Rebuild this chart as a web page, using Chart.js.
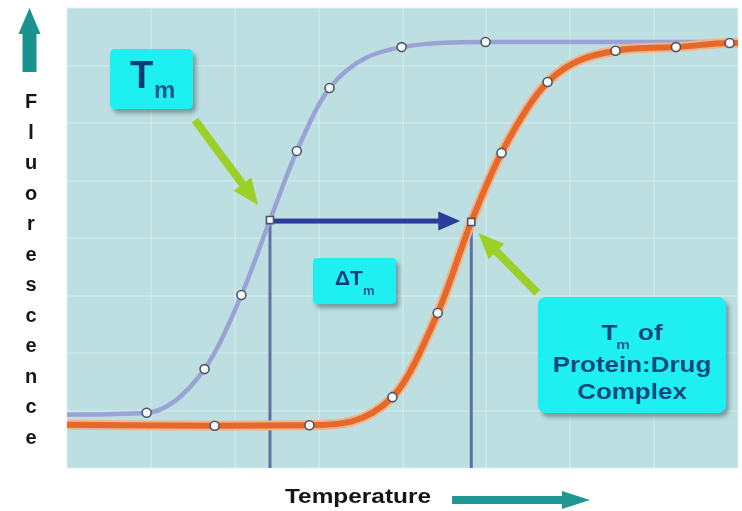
<!DOCTYPE html>
<html lang="en">
<head>
  <meta charset="UTF-8">
  <title>Thermal shift – Tm</title>
  <script src="https://cdn.jsdelivr.net/npm/chart.js"></script>
  <style>
    body { margin: 0; background: #fff; }
  </style>
</head>
<body>
  <div style="width: 742px; height: 511px;">
    <canvas id="meltChart"></canvas>
  </div>

  <script>
    // protein alone (lavender curve)
    const tempProtein = [0, 9.5, 16.4, 20.8, 24.2, 27.4, 31.3, 39.9, 49.9, 80];
    const fluorProtein = [11.6, 12.0, 21.5, 37.6, 53.9, 68.9, 82.6, 91.5, 92.6, 92.6];
    const tmIdxProtein = 4;

    // protein:drug complex (orange curve)
    const tempComplex = [0, 17.6, 28.9, 38.8, 44.2, 48.2, 51.8, 57.3, 65.4, 72.6, 79.0, 80];
    const fluorComplex = [9.4, 9.2, 9.3, 15.4, 33.7, 53.5, 68.5, 83.9, 90.7, 91.5, 92.4, 92.4];
    const tmIdxComplex = 5;

    const toPoints = (xs, ys) => xs.map((x, i) => ({ x: x, y: ys[i] }));

    // marker radius per point: none at the open ends of the curves
    const radii = (xs, tm, size) => xs.map((x, i) => (i === 0 || x === 80) ? 0 : (i === tm ? size + 0.5 : size));
    const styles = (xs, tm) => xs.map((x, i) => i === tm ? 'rect' : 'circle');

    const FONT = '"Liberation Sans", Arial, sans-serif';

    function txt(ctx, s, x, y, size, color, sx, align) {
      ctx.save();
      ctx.font = 'bold ' + size + 'px ' + FONT;
      ctx.fillStyle = color;
      ctx.textAlign = align || 'left';
      ctx.textBaseline = 'alphabetic';
      ctx.translate(x, y);
      ctx.scale(sx || 1, 1);
      ctx.fillText(s, 0, 0);
      const w = ctx.measureText(s).width * (sx || 1);
      ctx.restore();
      return w;
    }

    function measure(ctx, s, size, sx) {
      ctx.save();
      ctx.font = 'bold ' + size + 'px ' + FONT;
      const w = ctx.measureText(s).width * (sx || 1);
      ctx.restore();
      return w;
    }

    function box(ctx, x, y, w, h, r) {
      ctx.save();
      ctx.shadowColor = 'rgba(60, 95, 105, 0.55)';
      ctx.shadowOffsetX = 3;
      ctx.shadowOffsetY = 4;
      ctx.shadowBlur = 4;
      ctx.fillStyle = '#1ef0f2';
      ctx.beginPath();
      ctx.roundRect(x, y, w, h, r);
      ctx.fill();
      ctx.restore();
    }

    function arrow(ctx, x1, y1, x2, y2, width, headLen, headW, color) {
      const a = Math.atan2(y2 - y1, x2 - x1);
      const len = Math.hypot(x2 - x1, y2 - y1);
      ctx.save();
      ctx.translate(x1, y1);
      ctx.rotate(a);
      ctx.fillStyle = color;
      ctx.fillRect(0, -width / 2, len - headLen + 1, width);
      ctx.beginPath();
      ctx.moveTo(len, 0);
      ctx.lineTo(len - headLen, -headW / 2);
      ctx.lineTo(len - headLen, headW / 2);
      ctx.closePath();
      ctx.fill();
      ctx.restore();
    }

    const annotations = {
      id: 'annotations',
      beforeDraw(chart) {
        const { ctx, chartArea: a } = chart;
        ctx.save();
        ctx.fillStyle = '#bedfe1';
        ctx.fillRect(a.left, a.top, a.right - a.left, a.bottom - a.top);
        ctx.restore();
      },
      beforeDatasetsDraw(chart) {
        const { ctx, chartArea: a, scales } = chart;
        const x1 = scales.x.getPixelForValue(tempProtein[tmIdxProtein]);
        const y1 = scales.y.getPixelForValue(fluorProtein[tmIdxProtein]);
        const x2 = scales.x.getPixelForValue(tempComplex[tmIdxComplex]);
        const y2 = scales.y.getPixelForValue(fluorComplex[tmIdxComplex]);
        ctx.save();
        ctx.strokeStyle = '#5d71a6';
        ctx.lineWidth = 3;
        ctx.beginPath();
        ctx.moveTo(x1, y1); ctx.lineTo(x1, a.bottom);
        ctx.moveTo(x2, y2); ctx.lineTo(x2, a.bottom);
        ctx.stroke();
        ctx.restore();
        // delta Tm arrow
        arrow(ctx, x1 + 3, y1 + 1, x2 - 11, y1 + 1, 5, 22, 19, '#2b3c9b');
      },
      afterDatasetsDraw(chart) {
        const { ctx, scales } = chart;
        const x1 = scales.x.getPixelForValue(tempProtein[tmIdxProtein]);
        const y1 = scales.y.getPixelForValue(fluorProtein[tmIdxProtein]);
        const x2 = scales.x.getPixelForValue(tempComplex[tmIdxComplex]);
        const y2 = scales.y.getPixelForValue(fluorComplex[tmIdxComplex]);

        // green pointers
        arrow(ctx, x1 - 75, y1 - 100, x1 - 12, y1 - 15, 8, 26, 22, '#9ccf28');
        arrow(ctx, x2 + 66, y2 + 71, x2 + 7, y2 + 11, 8, 26, 22, '#9ccf28');

        // Tm label
        box(ctx, 110, 49, 83, 60, 5);
        txt(ctx, 'T', 130, 88, 38, '#0a3876');
        txt(ctx, 'm', 154, 98, 24, '#1d5c8c');

        // delta Tm label
        box(ctx, 313, 258, 83, 46, 4);
        const wd = txt(ctx, '\u0394T', 335, 285, 20, '#0c3c7c', 1.05);
        txt(ctx, 'm', 335 + wd, 295, 13, '#1d5c8c');

        // complex label
        box(ctx, 538, 297, 188, 116, 8);
        const cx = 632, sx = 1.18, c = '#0d4580';
        const wT = measure(ctx, 'T', 22, sx), wm = measure(ctx, 'm', 13, sx), wo = measure(ctx, ' of', 22, sx);
        let lx = cx - (wT + wm + wo) / 2;
        txt(ctx, 'T', lx, 340, 22, c, sx);
        txt(ctx, 'm', lx + wT - 1, 349, 13, '#1d5c8c', sx);
        txt(ctx, ' of', lx + wT + wm, 340, 22, c, sx);
        txt(ctx, 'Protein:Drug', cx, 372, 22, c, sx, 'center');
        txt(ctx, 'Complex', cx, 399, 22, c, sx, 'center');
      },
      afterDraw(chart) {
        const { ctx } = chart;
        // y axis caption, one letter per line
        const letters = 'Fluorescence'.split('');
        letters.forEach((ch, i) => txt(ctx, ch, 31, 108 + i * 30.5, 20, '#161616', 1, 'center'));
        arrow(ctx, 29.5, 72, 29.5, 8, 14, 26, 22, '#1a938f');
        // x axis caption
        txt(ctx, 'Temperature', 358, 503, 20, '#151515', 1.22, 'center');
        arrow(ctx, 452, 500, 590, 500, 8, 28, 18, '#1f9893');
      }
    };

    const gridStyle = { color: 'rgba(220, 242, 243, 0.42)', lineWidth: 2, drawTicks: false };

    const config = {
      type: 'line',
      data: {
        datasets: [
          {
            label: 'Protein:Drug',
            data: toPoints(tempComplex, fluorComplex),
            borderColor: '#e4692a',
            borderWidth: 6,
            cubicInterpolationMode: 'monotone',
            pointRadius: radii(tempComplex, tmIdxComplex, 4.5),
            pointStyle: styles(tempComplex, tmIdxComplex),
            pointBackgroundColor: '#fbfcfd',
            pointBorderColor: '#4c5664',
            pointBorderWidth: 1.6,
            order: 0
          },
          {
            label: 'halo',
            data: toPoints(tempComplex, fluorComplex),
            borderColor: '#f0b48c',
            borderWidth: 10,
            cubicInterpolationMode: 'monotone',
            pointRadius: 0,
            order: 1
          },
          {
            label: 'Protein',
            data: toPoints(tempProtein, fluorProtein),
            borderColor: '#9aa3d5',
            borderWidth: 4.5,
            cubicInterpolationMode: 'monotone',
            pointRadius: radii(tempProtein, tmIdxProtein, 4.5),
            pointStyle: styles(tempProtein, tmIdxProtein),
            pointBackgroundColor: '#fbfcfd',
            pointBorderColor: '#4c5664',
            pointBorderWidth: 1.6,
            order: 2
          }
        ]
      },
      options: {
        responsive: true,
        maintainAspectRatio: false,
        animation: false,
        layout: { padding: { left: 67, right: 4, top: 8, bottom: 43 } },
        plugins: {
          legend: { display: false },
          tooltip: { enabled: false }
        },
        scales: {
          x: {
            type: 'linear',
            min: 0,
            max: 80,
            ticks: { display: false, stepSize: 10 },
            grid: gridStyle,
            border: { display: false }
          },
          y: {
            min: 0,
            max: 100,
            ticks: { display: false, stepSize: 12.5 },
            grid: gridStyle,
            border: { display: false }
          }
        }
      },
      plugins: [annotations]
    };

    new Chart(document.getElementById('meltChart'), config);
  </script>
</body>
</html>
